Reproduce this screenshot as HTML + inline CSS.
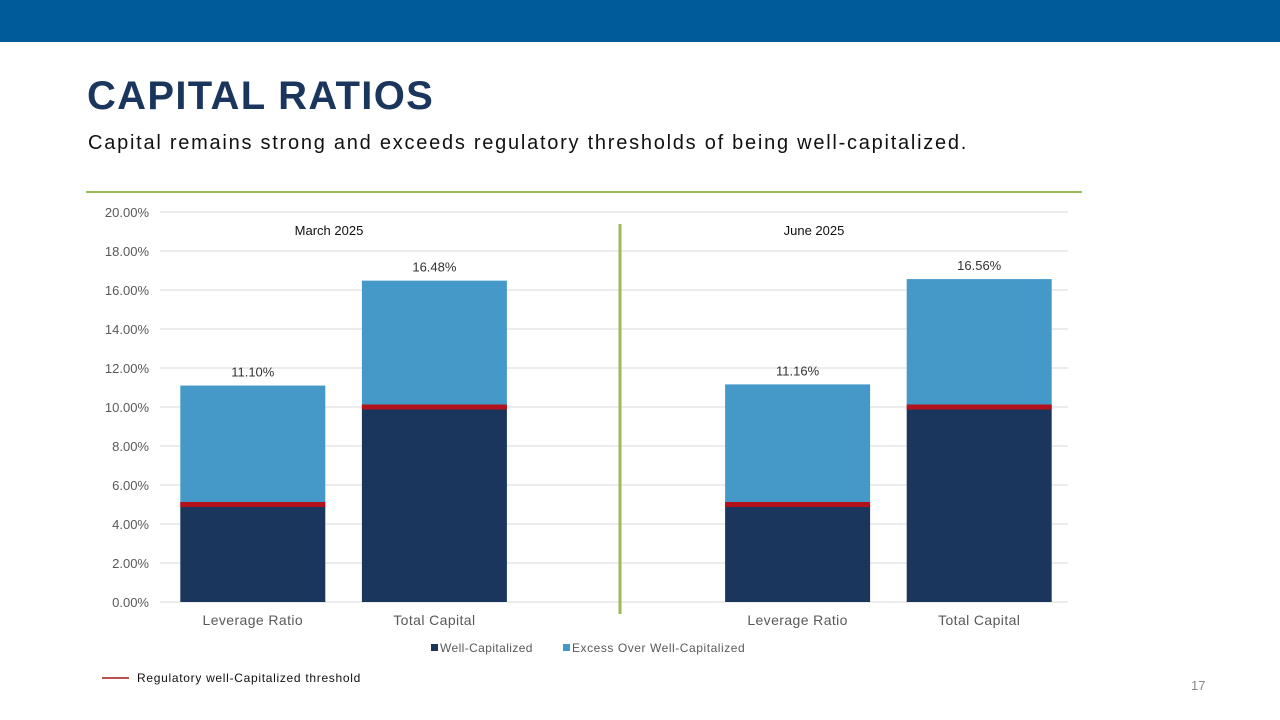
<!DOCTYPE html>
<html><head><meta charset="utf-8"><style>
body{margin:0;width:1280px;height:720px;background:#fff;overflow:hidden;font-family:"Liberation Sans",sans-serif;position:relative}
.abs{position:absolute}
</style></head><body>
<div class="abs" style="left:0;top:0;width:1280px;height:42px;background:#005b9a"></div>
<div class="abs" style="left:87px;top:74px;font-size:40px;font-weight:bold;color:#1a365d;letter-spacing:1.3px">CAPITAL RATIOS</div>
<div class="abs" style="left:88px;top:132px;font-size:20px;color:#111;letter-spacing:1.75px;white-space:nowrap">Capital remains strong and exceeds regulatory thresholds of being well-capitalized.</div>
<div class="abs" style="left:86px;top:191px;width:996px;height:2px;background:#9bbb59"></div>
<svg class="abs" style="left:0;top:0" width="1280" height="720" id="chart"></svg>
<div class="abs" style="left:1191px;top:678px;font-size:13px;color:#888">17</div>
<script>
const categories=["Leverage Ratio","Total Capital","","Leverage Ratio","Total Capital"];
const wellCap=[5,10,null,5,10];
const excess=[6.10,6.48,null,6.16,6.56];
const totals=["11.10%","16.48%",null,"11.16%","16.56%"];
const ticks=[0,2,4,6,8,10,12,14,16,18,20];
const periods=["March 2025","June 2025"];
const svg=document.getElementById('chart');
const NS='http://www.w3.org/2000/svg';
const x0=162,x1=1070,yBase=602,yTop=212;
const slot=(x1-x0)/categories.length,bw=145;
const y=v=>yBase-(v/20)*(yBase-yTop);
const cx=i=>x0+slot*(i+0.5);
function mk(t,a,txt){const e=document.createElementNS(NS,t);for(const k in a)e.setAttribute(k,a[k]);if(txt!=null)e.textContent=txt;svg.appendChild(e);return e;}
ticks.forEach(t=>{
 let l=mk('line',{x1:160,x2:1068,y1:y(t),y2:y(t),stroke:'#d9d9d9','stroke-width':1});
 
 let tx=mk('text',{x:149,y:y(t)+5,'text-anchor':'end','font-size':13,fill:'#595959'},t.toFixed(2)+'%');
 
});
categories.forEach((c,i)=>{
 if(wellCap[i]==null)return;
 const bx=cx(i)-bw/2;
 let r1=mk('rect',{x:bx,y:y(wellCap[i]),width:bw,height:yBase-y(wellCap[i]),fill:'#1a365d'});
 
 let top=wellCap[i]+excess[i];
 let r2=mk('rect',{x:bx,y:y(top),width:bw,height:y(wellCap[i])-y(top),fill:'#4599c9'});
 
 let th=mk('rect',{x:bx,y:y(wellCap[i])-2.5,width:bw,height:5,fill:'#b3121c'});
 
 let lb=mk('text',{x:cx(i),y:y(top)-9,'text-anchor':'middle','font-size':13,fill:'#333'},totals[i]);
 
 let cl=mk('text',{x:cx(i),y:625,'text-anchor':'middle','font-size':14,fill:'#595959','letter-spacing':0.4},c);
 
});
let sep=mk('line',{x1:620,x2:620,y1:224,y2:614,stroke:'#9bbb59','stroke-width':3});

[329,814].forEach((px,k)=>{let t=mk('text',{x:px,y:235,'text-anchor':'middle','font-size':13,fill:'#111'},periods[k]);
 });
let g1=mk('rect',{x:431,y:644,width:7,height:7,fill:'#1a365d'});
let t1=mk('text',{x:440,y:652,'font-size':12,fill:'#595959','letter-spacing':0.4},'Well-Capitalized');
let g2=mk('rect',{x:563,y:644,width:7,height:7,fill:'#4599c9'});
let t2=mk('text',{x:572,y:652,'font-size':12,fill:'#595959','letter-spacing':0.55},'Excess Over Well-Capitalized');
let g3=mk('line',{x1:102,x2:129,y1:678,y2:678,stroke:'#c0504d','stroke-width':2});
let t3=mk('text',{x:137,y:682,'font-size':12,fill:'#111','letter-spacing':0.7},'Regulatory well-Capitalized threshold');
</script>
</body></html>
